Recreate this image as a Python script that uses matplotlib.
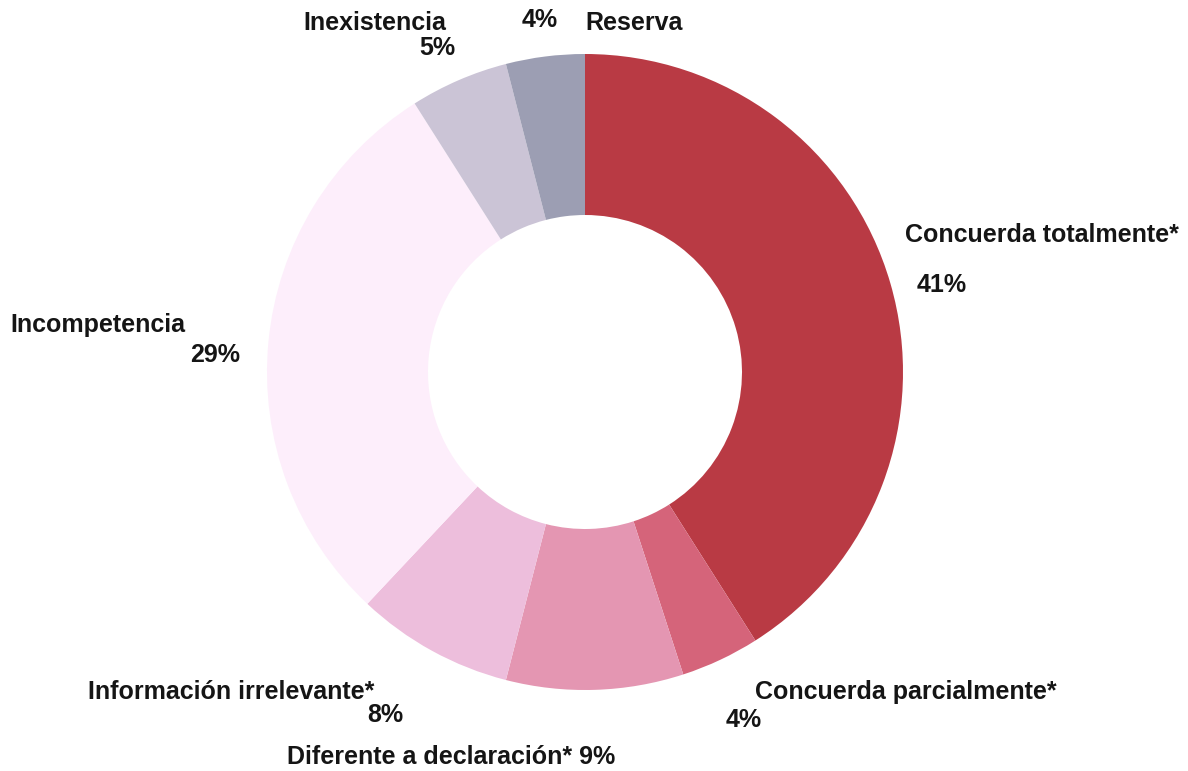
import matplotlib.pyplot as plt

# Datos (porcentajes, en sentido horario desde arriba)
categorias = ['Concuerda totalmente*', 'Concuerda parcialmente*', 'Diferente a declaración*',
              'Información irrelevante*', 'Incompetencia', 'Inexistencia', 'Reserva']
valores = [41, 4, 9, 8, 29, 5, 4]
colores = ['#B93A44', '#D5647A', '#E496B2', '#EDBEDC', '#FDEEFB', '#CBC4D6', '#9C9EB3']

plt.rcParams['font.family'] = ['Liberation Sans', 'DejaVu Sans']

fig = plt.figure(figsize=(11.88, 7.71), dpi=100)
ax = fig.add_axes([0, 0, 1, 1])

# Centro y radios en pixeles de la figura
cx, cy = 585, 771 - 372
r_ext, r_int = 318, 157

ax.pie(valores, colors=colores, startangle=90, counterclock=False,
       center=(cx, cy), radius=r_ext,
       wedgeprops=dict(width=r_ext - r_int, linewidth=0))

ax.set_xlim(0, 1188)
ax.set_ylim(0, 771)
ax.set_aspect('equal')
ax.axis('off')

# Etiquetas (posiciones en pixeles, y medida desde arriba)
def y(v):
    return 771 - v

estilo = dict(fontsize=18, fontweight='bold', color='#151515', va='center')
ax.text(585, y(23), categorias[6], ha='left', **estilo)
ax.text(540, y(20), f'{valores[6]}%', ha='center', **estilo)
ax.text(303, y(23), categorias[5], ha='left', **estilo)
ax.text(455, y(48), f'{valores[5]}%', ha='right', **estilo)
ax.text(905, y(235), categorias[0], ha='left', **estilo)
ax.text(917, y(285), f'{valores[0]}%', ha='left', **estilo)
ax.text(10, y(325), categorias[4], ha='left', **estilo)
ax.text(240, y(355), f'{valores[4]}%', ha='right', **estilo)
ax.text(88, y(692), categorias[3], ha='left', **estilo)
ax.text(385, y(715), f'{valores[3]}%', ha='center', **estilo)
ax.text(451, y(757), f'{categorias[2]} {valores[2]}%', ha='center', **estilo)
ax.text(755, y(692), categorias[1], ha='left', **estilo)
ax.text(726, y(720), f'{valores[1]}%', ha='left', **estilo)

plt.savefig('out.png', dpi=100)
